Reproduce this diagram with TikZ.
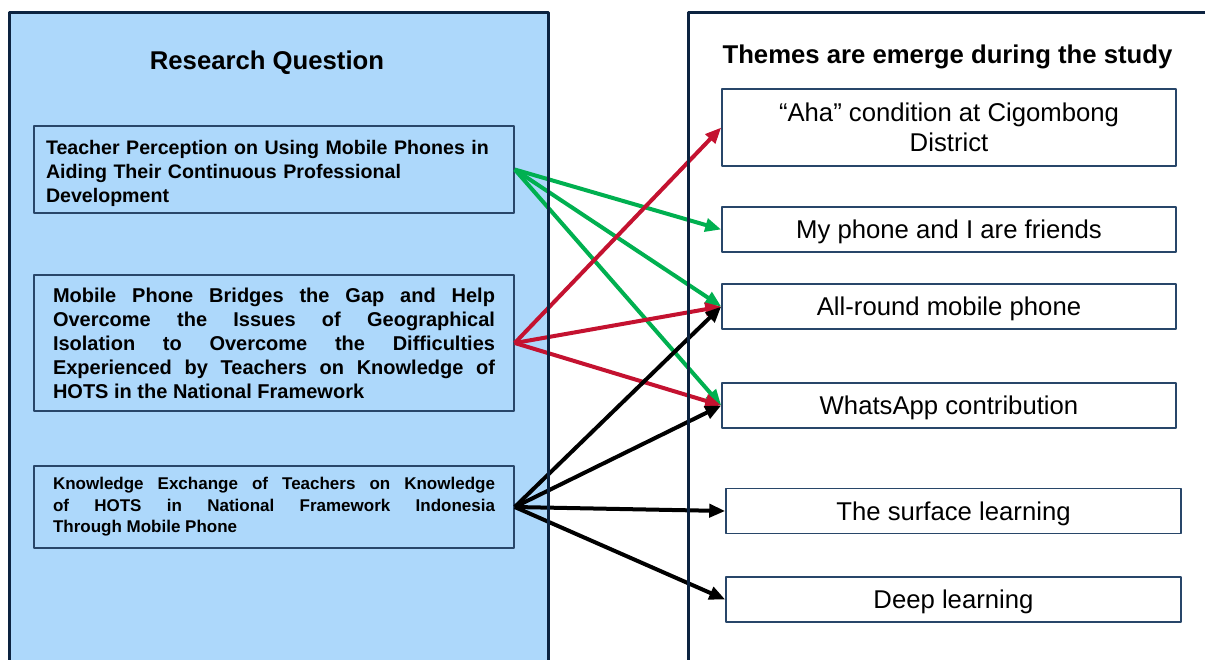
\documentclass[tikz,border=0pt]{standalone}
\usepackage{fontspec}
\setmainfont{Liberation Sans}
\usetikzlibrary{arrows.meta}
\definecolor{panelblue}{RGB}{173,216,251}
\definecolor{navy}{RGB}{12,35,64}
\definecolor{boxline}{RGB}{40,70,105}
\definecolor{arrgreen}{RGB}{0,176,80}
\definecolor{arrred}{RGB}{196,18,48}
\tolerance=10000
\hyphenpenalty=10000

\begin{document}
\begin{tikzpicture}[x=1pt,y=-1pt,line join=round,>={Triangle[length=16pt,width=13pt]},
  title/.style={font=\bfseries\fontsize{25.7}{30}\selectfont},
  question/.style={draw=boxline,line width=1.5pt,fill=panelblue,minimum width=480pt,font=\bfseries\fontsize{20}{24}\selectfont},
  theme/.style={draw=boxline,line width=1.5pt,fill=white,minimum width=454pt,minimum height=45pt,align=center,
    text height=24pt,text depth=5.5pt,font=\fontsize{25.7}{30}\selectfont},
  link/.style={line width=4pt,->}]

% page and panel sizes
\def\W{1205}
\def\H{659}
\def\lx{9}    % left panel, left edge
\def\rx{548}  % left panel, right edge
\def\sx{688}  % right panel, left edge
\def\top{12}  % top of both panels

\fill[white] (0,0) rectangle (\W,\H);
\useasboundingbox (0,0) rectangle (\W,\H);

% left panel background
\begin{scope}
  \clip (0,0) rectangle (\W,\H);
  \fill[panelblue] (\lx,\top) rectangle (\rx,\H+20);
\end{scope}

% titles
\node[title] (rq) at (267,63) {Research Question};
\node[title] (th) at (947.5,57) {Themes are emerge during the study};

% research questions
\node[question,text width=456pt,inner xsep=12pt,minimum height=87pt,align=left,text depth=44pt,
  font=\bfseries\fontsize{19.6}{24}\selectfont] (q1) at (274,169.5)
  {Teacher Perception on Using Mobile Phones in\\Aiding Their Continuous Professional\\Development};
\node[question,text width=442pt,inner xsep=19pt,minimum height=136pt,align=justify] (q2) at (274,343)
  {Mobile Phone Bridges the Gap and Help\linebreak Overcome the Issues of Geographical\linebreak
   Isolation to Overcome the Difficulties\linebreak Experienced by Teachers on Knowledge of\linebreak
   HOTS in the National Framework};
\node[question,text width=442pt,inner xsep=19pt,minimum height=82pt,align=justify,
  font=\bfseries\fontsize{17}{21.5}\selectfont] (q3) at (274,507)
  {Knowledge Exchange of Teachers on Knowledge\linebreak of HOTS in National Framework Indonesia\linebreak
   Through Mobile Phone};

% themes
\node[theme,minimum height=77pt,text height=,text depth=] (t1) at (949,127.5) {“Aha” condition at Cigombong\\District};
\node[theme] (t2) at (949,229.5) {My phone and I are friends};
\node[theme] (t3) at (949,306.5) {All-round mobile phone};
\node[theme] (t4) at (949,405.5) {WhatsApp contribution};
\node[theme,minimum width=455pt] (t5) at (953.5,511) {The surface learning};
\node[theme,minimum width=455pt] (t6) at (953.5,599.5) {Deep learning};

% links from questions to themes
\foreach \t in {t2,t3,t4}
  \draw[link,arrgreen] (q1.east) -- (\t.west);
\foreach \t in {t1,t3,t4}
  \draw[link,arrred] (q2.east) -- (\t.west);
\foreach \t in {t3,t4,t5,t6}
  \draw[link,black] (q3.east) -- (\t.west);

% panel borders
\begin{scope}
  \clip (0,0) rectangle (\W,\H);
  \draw[navy,line width=3pt] (\lx,\top) rectangle (\rx,\H+20);
  \draw[navy,line width=3pt] (\sx,\top) rectangle (\W+20,\H+20);
\end{scope}

\end{tikzpicture}
\end{document}
